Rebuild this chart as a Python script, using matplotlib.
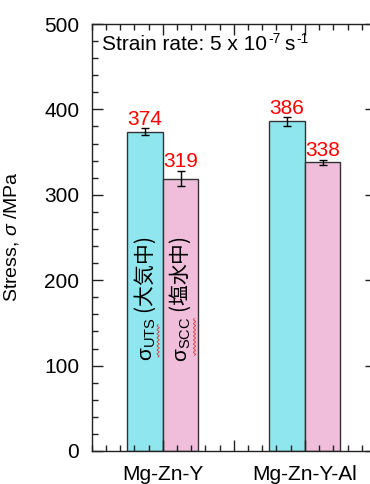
import matplotlib
matplotlib.use("Agg")
import matplotlib.pyplot as plt
import numpy as np
from matplotlib.ticker import MultipleLocator, FixedLocator

# Tensile strength in air (UTS) and under SCC in salt water, MPa
alloys = ["Mg-Zn-Y", "Mg-Zn-Y-Al"]
uts = [374, 386]
uts_err = [4, 5]
scc = [319, 338]
scc_err = [9, 3]
series_names = [r"$\mathrm{\sigma}_{\mathrm{UTS}}$ (大気中)",
                r"$\mathrm{\sigma}_{\mathrm{SCC}}$ (塩水中)"]

plt.rcParams['font.family'] = ['Liberation Sans', 'Noto Sans CJK JP']
plt.rcParams['mathtext.fontset'] = 'custom'
plt.rcParams['mathtext.rm'] = 'Liberation Sans'
plt.rcParams['mathtext.it'] = 'Liberation Sans:italic'
plt.rcParams['mathtext.bf'] = 'Liberation Sans:bold'

cyan = '#8FE6EE'
pink = '#F0BDDB'
edge = '#333333'

fig = plt.figure(figsize=(3.7, 4.84), dpi=100)
ax = fig.add_axes([0.248, 0.0682, 0.768, 0.8822])

x = np.arange(len(alloys))
w = 0.25
ekw = dict(capsize=3, elinewidth=1, capthick=1, ecolor='k')
ax.bar(x - w / 2, uts, w, yerr=uts_err, color=cyan, edgecolor=edge,
       linewidth=1, error_kw=ekw)
ax.bar(x + w / 2, scc, w, yerr=scc_err, color=pink, edgecolor=edge,
       linewidth=1, error_kw=ekw)

# red value labels above the error bars
for xs, vals, errs in [(x - w / 2, uts, uts_err), (x + w / 2, scc, scc_err)]:
    for xi, v, e in zip(xs, vals, errs):
        ax.annotate(str(v), (xi, v + e), xytext=(0, 2.5),
                    textcoords='offset points', ha='center', va='baseline',
                    color='red', fontsize=15)


def squiggle(xc, y0, y1, n):
    # red wavy underline, as a spell checker draws it
    yy = np.linspace(y0, y1, 12 * n)
    xx = xc + 0.007 * np.sin((yy - y0) / (y1 - y0) * 2 * np.pi * n)
    ax.plot(xx, yy, color='#E83030', lw=0.6, zorder=3)


# series names written vertically inside the first pair of bars
for xi, name in zip([x[0] - w / 2, x[0] + w / 2], series_names):
    ax.text(xi, 178, name, rotation=90, ha='center', va='center',
            fontsize=15, family='Noto Sans CJK JP')
squiggle(x[0] - w / 2 + 0.092, 110, 148, 8)
squiggle(x[0] + w / 2 + 0.098, 112, 155, 9)

# strain rate note, superscripts set smaller than the line
t1 = ax.text(0.036, 0.939, "Strain rate: 5 x 10", transform=ax.transAxes,
             fontsize=15, va='baseline', ha='left')
t2 = ax.annotate("-7", xy=(1, 0), xycoords=t1, xytext=(1, 8.3),
                 textcoords='offset points', fontsize=10, va='baseline')
t3 = ax.annotate("s", xy=(1, 0), xycoords=(t2, t1), xytext=(3, 0),
                 textcoords='offset points', fontsize=15, va='bottom')
ax.annotate("-1", xy=(1, 0), xycoords=(t3, t1), xytext=(1, 8.3),
            textcoords='offset points', fontsize=10, va='baseline')

ax.set_xlim(-0.5, 1.5)
ax.set_ylim(0, 500)
ax.xaxis.set_major_locator(FixedLocator([0, 0.5, 1]))
ax.set_xticklabels([alloys[0], '', alloys[1]])
ax.xaxis.set_minor_locator(MultipleLocator(0.1))
ax.yaxis.set_major_locator(MultipleLocator(100))
ax.yaxis.set_minor_locator(MultipleLocator(20))

ax.tick_params(which='both', direction='in', top=True, right=True,
               width=1, color='#222222')
ax.tick_params(which='major', length=8, labelsize=15, pad=9)
ax.tick_params(which='minor', length=4)
ax.tick_params(axis='x', which='major', pad=10)
for s in ax.spines.values():
    s.set_linewidth(1)
    s.set_color('#222222')

ax.set_ylabel(r"Stress, $\sigma$ /MPa", fontsize=14)
ax.yaxis.set_label_coords(-0.249, 0.503)

fig.savefig('out.png', dpi=100)
